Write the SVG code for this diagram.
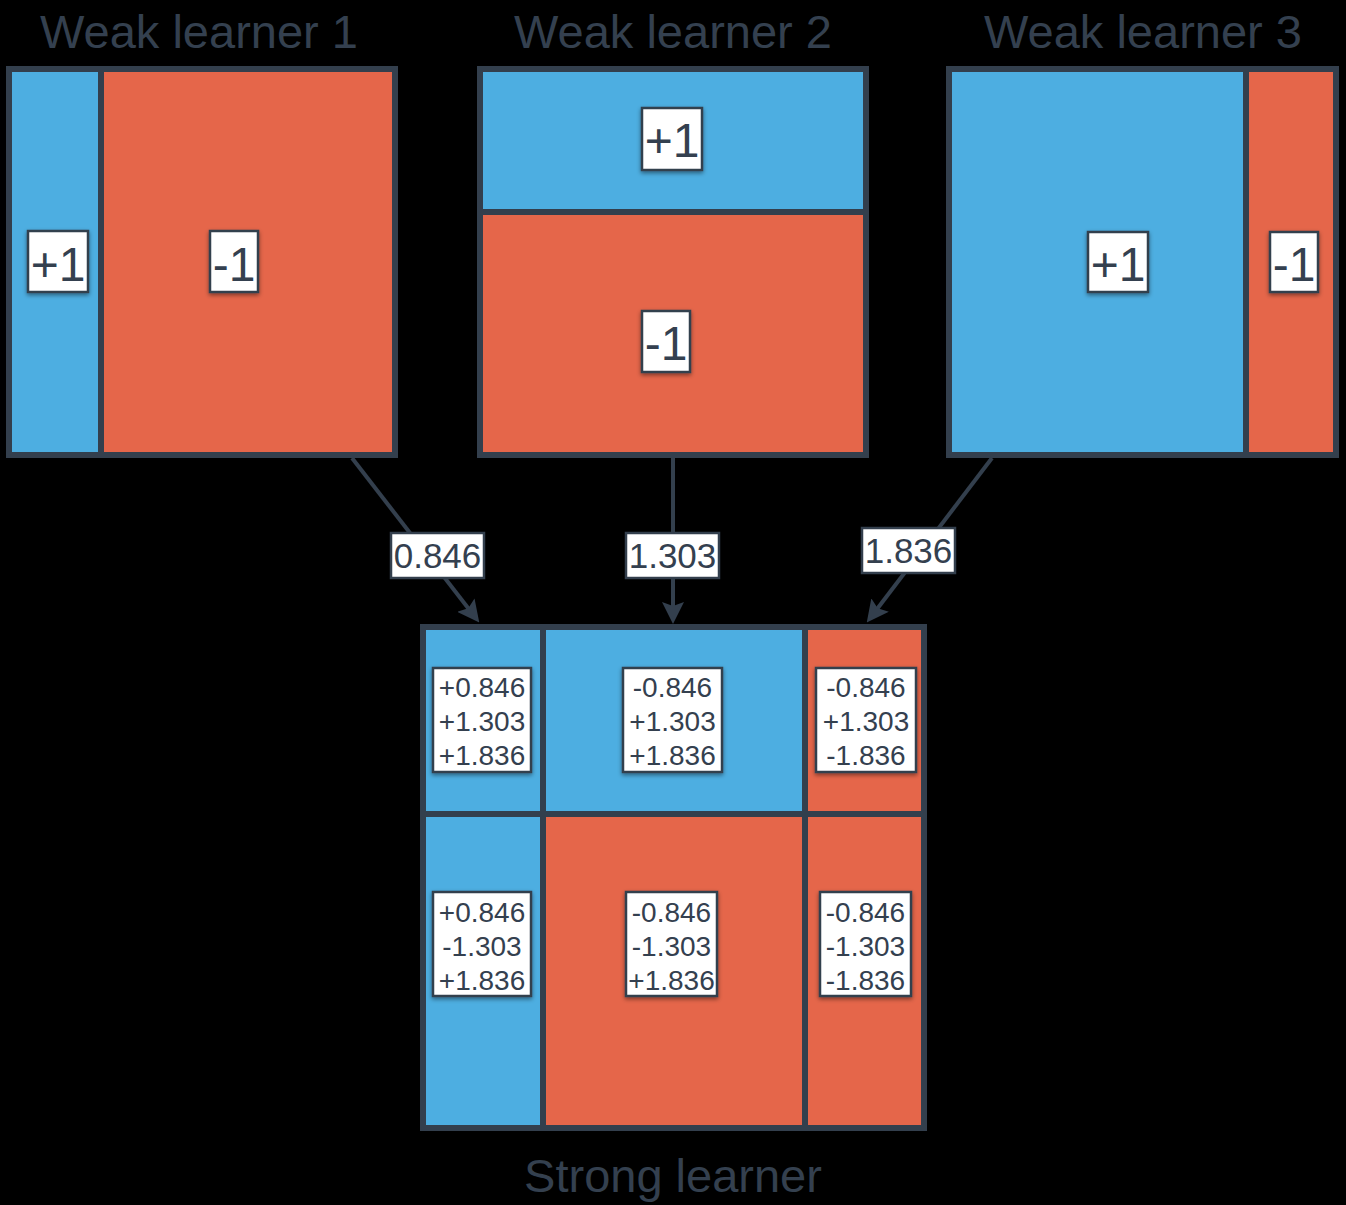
<svg xmlns="http://www.w3.org/2000/svg" width="1346" height="1205" viewBox="0 0 1346 1205">
<defs>
<filter id="sh" x="-20%" y="-20%" width="140%" height="140%">
<feDropShadow dx="0" dy="2" stdDeviation="2" flood-color="#000" flood-opacity="0.45"/>
</filter>
<marker id="ah" viewBox="0 0 22 22" refX="15" refY="11" markerWidth="22" markerHeight="22" markerUnits="userSpaceOnUse" orient="auto">
<path d="M0,0 L22,11 L0,22 L4,11 Z" fill="#333f4d"/>
</marker>
<style>
.blue{fill:#4daee1}
.red{fill:#e5664a}
.frame{fill:none;stroke:#333f4d;stroke-width:6}
.div{stroke:#333f4d;stroke-width:6}
.lbl{fill:#fff;stroke:#333f4d;stroke-width:2.5;filter:url(#sh)}
.t{font-family:"Liberation Sans",Arial,sans-serif;fill:#34404f;text-anchor:middle}
.title{font-size:47px}
.big{font-size:48px}
.mid{font-size:35px}
.sm{font-size:28px}
.edge{stroke:#333f4d;stroke-width:4;fill:none;marker-end:url(#ah)}
</style>
</defs>
<rect x="0" y="0" width="1346" height="1205" fill="#000"/>

<g id="weak1">
<text class="t title" x="199" y="48">Weak learner 1</text>
<rect class="blue" x="12" y="72" width="89" height="380"/>
<rect class="red" x="101" y="72" width="291" height="380"/>
<line class="div" x1="101" y1="72" x2="101" y2="452"/>
<rect class="frame" x="9" y="69" width="386" height="386"/>
<rect class="lbl" x="28" y="231" width="60" height="61"/>
<text class="t big" x="58" y="281">+1</text>
<rect class="lbl" x="210" y="231" width="48" height="61"/>
<text class="t big" x="234" y="281">-1</text>
</g>

<g id="weak2">
<text class="t title" x="673" y="48">Weak learner 2</text>
<rect class="blue" x="483" y="72" width="380" height="140"/>
<rect class="red" x="483" y="212" width="380" height="240"/>
<line class="div" x1="483" y1="212" x2="863" y2="212"/>
<rect class="frame" x="480" y="69" width="386" height="386"/>
<rect class="lbl" x="642" y="108" width="60" height="62"/>
<text class="t big" x="672" y="157">+1</text>
<rect class="lbl" x="642" y="311" width="48" height="61"/>
<text class="t big" x="666" y="360">-1</text>
</g>

<g id="weak3">
<text class="t title" x="1143" y="48">Weak learner 3</text>
<rect class="blue" x="952" y="72" width="294" height="380"/>
<rect class="red" x="1246" y="72" width="87" height="380"/>
<line class="div" x1="1246" y1="72" x2="1246" y2="452"/>
<rect class="frame" x="949" y="69" width="387" height="386"/>
<rect class="lbl" x="1088" y="232" width="60" height="60"/>
<text class="t big" x="1118" y="281">+1</text>
<rect class="lbl" x="1270" y="232" width="48" height="60"/>
<text class="t big" x="1294" y="281">-1</text>
</g>

<g id="strong">
<rect class="blue" x="426" y="630" width="117" height="184"/>
<rect class="blue" x="543" y="630" width="262" height="184"/>
<rect class="red" x="805" y="630" width="116" height="184"/>
<rect class="blue" x="426" y="814" width="117" height="311"/>
<rect class="red" x="543" y="814" width="262" height="311"/>
<rect class="red" x="805" y="814" width="116" height="311"/>
<line class="div" x1="543" y1="630" x2="543" y2="1125"/>
<line class="div" x1="805" y1="630" x2="805" y2="1125"/>
<line class="div" x1="426" y1="814" x2="921" y2="814"/>
<rect class="frame" x="423" y="627" width="501" height="501"/>

<rect class="lbl" x="433" y="668" width="98" height="104"/>
<text class="t sm"><tspan x="482" y="697">+0.846</tspan><tspan x="482" y="731">+1.303</tspan><tspan x="482" y="765">+1.836</tspan></text>
<rect class="lbl" x="623" y="668" width="99" height="104"/>
<text class="t sm"><tspan x="672.5" y="697">-0.846</tspan><tspan x="672.5" y="731">+1.303</tspan><tspan x="672.5" y="765">+1.836</tspan></text>
<rect class="lbl" x="816" y="668" width="100" height="104"/>
<text class="t sm"><tspan x="866" y="697">-0.846</tspan><tspan x="866" y="731">+1.303</tspan><tspan x="866" y="765">-1.836</tspan></text>

<rect class="lbl" x="433" y="892" width="98" height="104"/>
<text class="t sm"><tspan x="482" y="922">+0.846</tspan><tspan x="482" y="956">-1.303</tspan><tspan x="482" y="990">+1.836</tspan></text>
<rect class="lbl" x="626" y="892" width="91" height="104"/>
<text class="t sm"><tspan x="671.5" y="922">-0.846</tspan><tspan x="671.5" y="956">-1.303</tspan><tspan x="671.5" y="990">+1.836</tspan></text>
<rect class="lbl" x="820" y="892" width="91" height="104"/>
<text class="t sm"><tspan x="865.5" y="922">-0.846</tspan><tspan x="865.5" y="956">-1.303</tspan><tspan x="865.5" y="990">-1.836</tspan></text>

<text class="t title" x="673" y="1192">Strong learner</text>
</g>

<g id="connectors">
<line class="edge" x1="352" y1="458" x2="475" y2="617"/>
<line class="edge" x1="673" y1="458" x2="673" y2="617"/>
<line class="edge" x1="992" y1="458" x2="871" y2="617"/>
<rect x="391" y="533" width="93" height="45" fill="#fff" stroke="#333f4d" stroke-width="2.5"/>
<text class="t mid" x="437.5" y="568">0.846</text>
<rect x="626" y="533" width="93" height="45" fill="#fff" stroke="#333f4d" stroke-width="2.5"/>
<text class="t mid" x="672.5" y="568">1.303</text>
<rect x="862" y="528" width="93" height="45" fill="#fff" stroke="#333f4d" stroke-width="2.5"/>
<text class="t mid" x="908.5" y="563">1.836</text>
</g>
</svg>
